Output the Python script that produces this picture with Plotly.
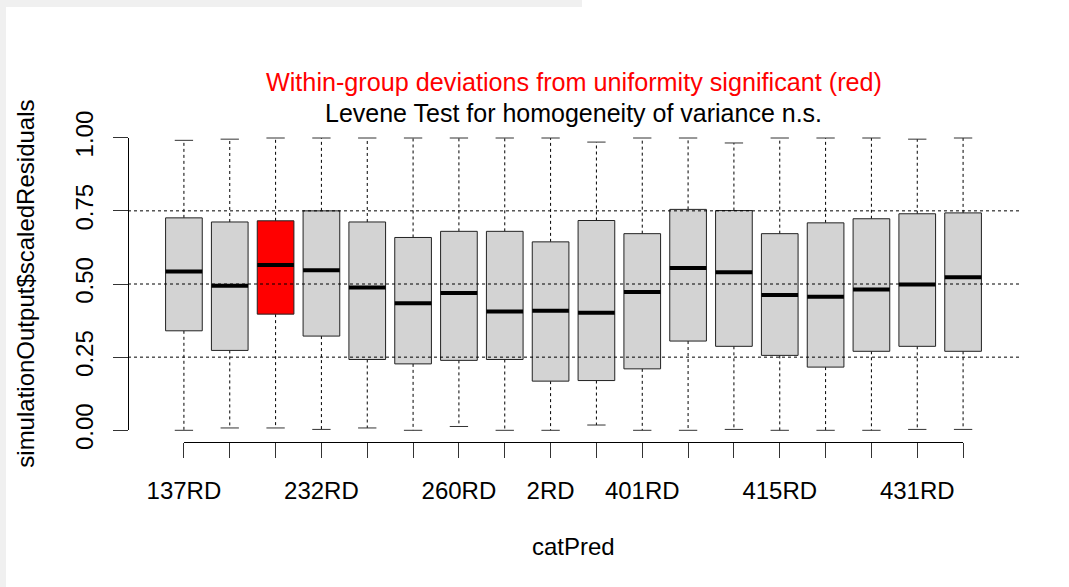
import plotly.graph_objects as go

# ---- data ----
labels = ["137RD", "", "", "232RD", "", "", "260RD", "", "2RD", "", "401RD", "", "", "415RD", "", "", "431RD", ""]
lower = [0.000, 0.008, 0.008, 0.003, 0.008, 0.000, 0.013, 0.000, 0.000, 0.018, 0.000, 0.000, 0.003, 0.000, 0.000, 0.000, 0.003, 0.003]
q1 = [0.340, 0.273, 0.397, 0.322, 0.242, 0.227, 0.239, 0.242, 0.168, 0.170, 0.210, 0.305, 0.287, 0.256, 0.216, 0.270, 0.287, 0.270]
median = [0.543, 0.494, 0.565, 0.547, 0.488, 0.434, 0.469, 0.406, 0.409, 0.402, 0.473, 0.555, 0.540, 0.462, 0.456, 0.481, 0.498, 0.523]
q3 = [0.726, 0.712, 0.716, 0.750, 0.712, 0.659, 0.680, 0.680, 0.644, 0.717, 0.672, 0.755, 0.751, 0.672, 0.709, 0.723, 0.740, 0.743]
upper = [0.991, 0.995, 0.999, 0.999, 0.999, 0.999, 0.999, 0.999, 0.999, 0.985, 0.999, 0.999, 0.982, 0.999, 0.999, 0.999, 0.995, 0.999]
significant = [False, False, True, False, False, False, False, False, False, False, False, False, False, False, False, False, False, False]
ref_lines = [0.25, 0.5, 0.75]
y_ticks = [0.0, 0.25, 0.5, 0.75, 1.0]
y_ticktext = ["0.00", "0.25", "0.50", "0.75", "1.00"]

title_main = "Within-group deviations from uniformity significant (red)"
title_sub = "Levene Test for homogeneity of variance n.s."
x_title = "catPred"
y_title = "simulationOutput$scaledResiduals"

# ---- geometry / style ----
n = len(median)
pos = list(range(1, n + 1))
half = 0.4
cap = 0.2
x_range = [0.5 - 0.04 * n, n + 0.5 + 0.04 * n]
y_range = [-0.04, 1.04]
FONT = "Liberation Sans, Arial, sans-serif"
DASH = "3px,3px"

fig = go.Figure()

# whiskers (dashed)
wx, wy = [], []
for p, lo, a, b, hi in zip(pos, lower, q1, q3, upper):
    wx += [p, p, None, p, p, None]
    wy += [b, hi, None, a, lo, None]
fig.add_trace(go.Scatter(x=wx, y=wy, mode="lines", line=dict(color="black", width=1, dash=DASH),
                         hoverinfo="skip", showlegend=False))

# staples
sx, sy = [], []
for p, lo, hi in zip(pos, lower, upper):
    sx += [p - cap, p + cap, None, p - cap, p + cap, None]
    sy += [hi, hi, None, lo, lo, None]
fig.add_trace(go.Scatter(x=sx, y=sy, mode="lines", line=dict(color="#333333", width=1),
                         hoverinfo="skip", showlegend=False))

# boxes
for flag, color in [(False, "#D3D3D3"), (True, "#FF0000")]:
    bx, by = [], []
    for p, a, b, s in zip(pos, q1, q3, significant):
        if s != flag:
            continue
        bx += [p - half, p + half, p + half, p - half, p - half, None]
        by += [a, a, b, b, a, None]
    fig.add_trace(go.Scatter(x=bx, y=by, mode="lines", fill="toself", fillcolor=color,
                             line=dict(color="#222222", width=1), hoverinfo="skip", showlegend=False))

# medians
mx, my = [], []
for p, m in zip(pos, median):
    mx += [p - half, p + half, None]
    my += [m, m, None]
fig.add_trace(go.Scatter(x=mx, y=my, mode="lines", line=dict(color="black", width=4),
                         hoverinfo="skip", showlegend=False))

# reference lines (abline)
for h in ref_lines:
    fig.add_trace(go.Scatter(x=x_range, y=[h, h], mode="lines", line=dict(color="black", width=1, dash=DASH),
                             hoverinfo="skip", showlegend=False))

# dummy trace to host the R-style axes
fig.add_trace(go.Scatter(x=[pos[0], pos[-1]], y=[0, 1], xaxis="x2", yaxis="y2", mode="markers",
                         marker=dict(opacity=0), hoverinfo="skip", showlegend=False))

span_x = x_range[1] - x_range[0]
span_y = y_range[1] - y_range[0]
x2_dom = [(pos[0] - x_range[0]) / span_x, (pos[-1] - x_range[0]) / span_x]
y2_dom = [(0 - y_range[0]) / span_y, (1 - y_range[0]) / span_y]

L, R, T, B = 128, 50, 126, 145
plot_h = 587 - T - B
plot_w = 1069 - L - R


def py(px):
    return (587 - B - px) / plot_h


def pxx(px):
    return (px - L) / plot_w


fig.update_layout(
    width=1069, height=587,
    margin=dict(l=L, r=R, t=T, b=B, pad=0),
    paper_bgcolor="white", plot_bgcolor="rgba(0,0,0,0)",
    font=dict(family=FONT, size=24, color="black"),
    xaxis=dict(range=x_range, visible=False, domain=[0, 1]),
    yaxis=dict(range=y_range, visible=False, domain=[0, 1]),
    xaxis2=dict(range=[pos[0], pos[-1]], domain=x2_dom, anchor="free", position=0,
                showline=True, linecolor="black", linewidth=1, ticks="outside", ticklen=15,
                tickcolor="#333333", tickwidth=1, tickvals=pos, ticktext=labels, showgrid=False,
                zeroline=False, tickfont=dict(size=24, family=FONT, color="black"),
                ticklabelstandoff=12),
    yaxis2=dict(range=[0, 1], domain=y2_dom, anchor="free", position=0,
                showline=True, linecolor="black", linewidth=1, ticks="outside", ticklen=15,
                tickcolor="#333333", tickwidth=1, tickvals=y_ticks, ticktext=y_ticktext,
                tickangle=-90, showgrid=False, zeroline=False,
                tickfont=dict(size=24, family=FONT, color="black"), ticklabelstandoff=10),
    annotations=[
        dict(text=title_main, xref="paper", yref="paper", x=0.5, y=py(81.7), xanchor="center",
             yanchor="middle", showarrow=False, font=dict(size=25.2, color="#FF0000", family=FONT)),
        dict(text=title_sub, xref="paper", yref="paper", x=0.5, y=py(112.7), xanchor="center",
             yanchor="middle", showarrow=False, font=dict(size=25, color="black", family=FONT)),
        dict(text=x_title, xref="paper", yref="paper", x=0.5, y=py(546.7), xanchor="center",
             yanchor="middle", showarrow=False, font=dict(size=24, color="black", family=FONT)),
        dict(text=y_title, xref="paper", yref="paper", x=pxx(24.7), y=0.5, xanchor="center",
             yanchor="middle", textangle=-90, showarrow=False,
             font=dict(size=24, color="black", family=FONT)),
    ],
    shapes=[
        dict(type="rect", xref="paper", yref="paper", x0=pxx(0), x1=pxx(582), y0=py(0), y1=py(7),
             fillcolor="#F0F0F0", line=dict(width=0), layer="below"),
        dict(type="rect", xref="paper", yref="paper", x0=pxx(0), x1=pxx(6), y0=py(0), y1=py(587),
             fillcolor="#F0F0F0", line=dict(width=0), layer="below"),
    ],
)

fig.write_html("out.html", config={"displayModeBar": False},
               post_script="document.body.style.margin='0';document.body.style.overflow='hidden';")
